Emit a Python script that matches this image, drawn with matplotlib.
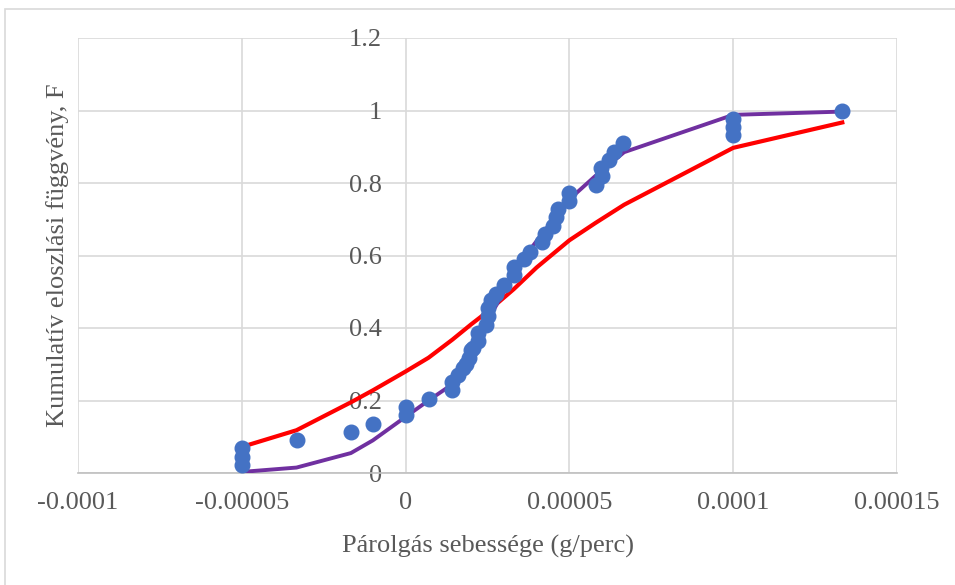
import numpy as np
import matplotlib.pyplot as plt
from matplotlib.patches import Rectangle
from matplotlib.ticker import FixedLocator, FixedFormatter

# measured points (x in g/perc)
pts_x = np.array([-5.0, -5.0, -5.0, -3.33, -1.67, -1.0, 0.0, 0.0, 0.7, 1.43, 1.43,
                  1.6, 1.75, 1.85, 1.95, 2.0, 2.07, 2.2, 2.2, 2.45, 2.5, 2.5, 2.6,
                  2.75, 3.0, 3.3, 3.3, 3.6, 3.8, 4.15, 4.25, 4.5, 4.6, 4.65, 5.0,
                  5.0, 5.8, 6.0, 5.95, 6.2, 6.35, 6.65, 10.0, 10.0, 10.0, 13.33]) * 1e-5
pts_y = [0.023, 0.045, 0.068, 0.091, 0.114, 0.136, 0.159, 0.182, 0.204, 0.229, 0.25,
         0.27, 0.29, 0.30, 0.318, 0.34, 0.345, 0.364, 0.386, 0.409, 0.432, 0.455, 0.477,
         0.495, 0.518, 0.545, 0.568, 0.59, 0.61, 0.636, 0.659, 0.682, 0.705, 0.727, 0.75,
         0.773, 0.795, 0.818, 0.841, 0.864, 0.886, 0.909, 0.932, 0.955, 0.977, 1.0]

# red curve
red_x = np.array([-5.0, -3.33, -1.67, -1.0, 0.0, 0.7, 1.43, 2.0, 2.5, 3.3, 4.0, 5.0,
                  5.8, 6.67, 10.0, 13.33]) * 1e-5
red_y = [0.072, 0.118, 0.195, 0.228, 0.28, 0.318, 0.368, 0.41, 0.445, 0.507, 0.567, 0.642,
         0.69, 0.74, 0.897, 0.967]

# purple curve
pur_x = np.array([-5.0, -3.33, -1.67, -1.0, 0.0, 0.7, 1.43, 2.0, 2.5, 3.0, 3.33, 4.0,
                  5.0, 5.8, 6.67, 10.0, 13.33]) * 1e-5
pur_y = [0.003, 0.015, 0.055, 0.09, 0.155, 0.2, 0.245, 0.33, 0.42, 0.5, 0.56, 0.64,
         0.755, 0.82, 0.885, 0.988, 0.997]

x_ticks = [-0.0001, -0.00005, 0, 0.00005, 0.0001, 0.00015]
x_labels = ['-0.0001', '-0.00005', '0', '0.00005', '0.0001', '0.00015']
y_ticks = [0, 0.2, 0.4, 0.6, 0.8, 1, 1.2]
y_labels = ['0', '0.2', '0.4', '0.6', '0.8', '1', '1.2']

plt.rcParams['font.family'] = ['Liberation Serif', 'DejaVu Serif']
txt = '#595959'
grid = '#D9D9D9'

fig = plt.figure(figsize=(9.55, 5.85), dpi=100)
fig.patches.append(Rectangle((5 / 955, -0.1), 1.2, (585 - 9) / 585 + 0.1,
                             transform=fig.transFigure, fill=False,
                             edgecolor='#D9D9D9', linewidth=1.2))
ax = fig.add_axes([78 / 955, (585 - 473) / 585, (897 - 78) / 955, (473 - 38) / 585])

ax.plot(red_x, red_y, color='#FF0000', linewidth=3.0, zorder=3)
ax.plot(pur_x, pur_y, color='#7030A0', linewidth=2.8, zorder=3)
ax.plot(pts_x, pts_y, linestyle='none', marker='o', markersize=10.5,
        color='#4472C4', zorder=4)

ax.set_xlim(-0.0001, 0.00015)
ax.set_ylim(0, 1.2)
ax.xaxis.set_major_locator(FixedLocator(x_ticks))
ax.xaxis.set_major_formatter(FixedFormatter(x_labels))
ax.yaxis.set_major_locator(FixedLocator(y_ticks))
ax.yaxis.set_major_formatter(FixedFormatter(y_labels))

ax.grid(True, color=grid, linewidth=1.2, zorder=0)
ax.set_axisbelow(True)
for s in ['top', 'right']:
    ax.spines[s].set_visible(False)
ax.spines['left'].set_position(('data', 0))
ax.spines['left'].set_color('none')
ax.spines['bottom'].set_color('#BFBFBF')
ax.spines['bottom'].set_linewidth(1.2)

ax.tick_params(axis='x', length=0, pad=14, labelsize=19, labelcolor=txt)
ax.tick_params(axis='y', length=0, pad=17, labelsize=19, labelcolor=txt)

ax.set_xlabel('Párolgás sebessége (g/perc)', fontsize=19, color=txt, labelpad=15)
ax.set_ylabel('Kumulatív eloszlási függvény, F', fontsize=19, color=txt)
ax.yaxis.set_label_coords(-9 / 819, 0.5)

fig.savefig('out.png', dpi=100)
